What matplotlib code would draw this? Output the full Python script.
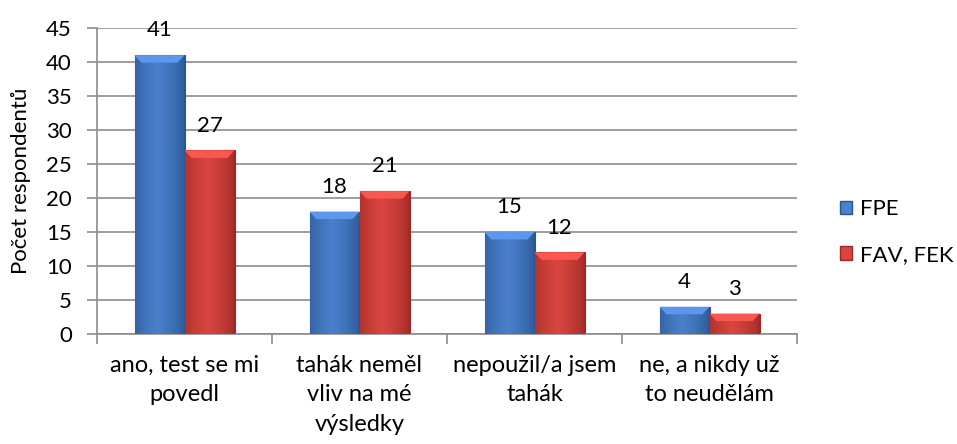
import numpy as np
import matplotlib
matplotlib.use("Agg")
import matplotlib.pyplot as plt
from matplotlib.colors import to_rgb
from matplotlib.patches import Patch

categories = ["ano, test se mi\npovedl", "tahák neměl\nvliv na mé\nvýsledky",
              "nepoužil/a jsem\ntahák", "ne, a nikdy už\nto neudělám"]
series_names = ["FPE", "FAV, FEK"]
fpe = [41, 18, 15, 4]
fav_fek = [27, 21, 12, 3]
y_label = "Počet respondentů"

plt.rcParams['font.family'] = ['Lato', 'DejaVu Sans']
FS = 16
FS_CAT = 17

fig = plt.figure(figsize=(9.57, 4.44), dpi=100)
ax = fig.add_axes([97/957, 1-334/444, 700/957, 306/444])

colors = {"FPE": ("#2A5591", "#4A80CC"), "FAV, FEK": ("#9E2826", "#D9463F")}
width = 50/175
x = np.arange(len(categories))

def gradient_bar(bar, dark, light):
    x0, y0 = bar.get_x(), bar.get_y()
    w, h = bar.get_width(), bar.get_height()
    d = np.array(to_rgb(dark)); l = np.array(to_rgb(light))
    t = np.linspace(0, 1, 64)
    prof = np.clip(1 - np.abs(t - 0.45) / 0.55, 0, 1) ** 0.6
    row = d[None, :] * (1 - prof[:, None]) + l[None, :] * prof[:, None]
    img = row[None, :, :]
    im = ax.imshow(img, extent=[x0, x0 + w, y0, y0 + h], aspect='auto',
                   origin='lower', zorder=3, interpolation='bilinear')
    im.set_clip_path(bar)
    # top bevel
    bev = min(1.1, h * 0.5)
    xs = [x0, x0 + w, x0 + w - w * 0.14, x0 + w * 0.14]
    ys = [y0 + h, y0 + h, y0 + h - bev, y0 + h - bev]
    ax.fill(xs, ys, color=tuple(np.clip(l * 1.1 + 0.04, 0, 1)), zorder=4, lw=0)

for i, (name, vals) in enumerate([("FPE", fpe), ("FAV, FEK", fav_fek)]):
    dark, light = colors[name]
    offs = (i - 0.5) * width
    bars = ax.bar(x + offs, vals, width, color=dark, edgecolor=dark, lw=0.8, zorder=2)
    for b, v in zip(bars, vals):
        gradient_bar(b, dark, light)
        ax.annotate(str(v), (b.get_x() + b.get_width() / 2, v), xytext=(0, 13.5),
                    textcoords='offset points', ha='center', va='baseline',
                    fontsize=FS, color='black', zorder=5)

ax.set_xlim(-0.5, len(categories) - 0.5)
ax.set_ylim(0, 45)
ax.set_yticks(np.arange(0, 46, 5))
ax.yaxis.grid(True, color='#8C8C8C', lw=1.2)
ax.set_axisbelow(True)
ax.set_xticks(x)
ax.set_xticklabels(categories, fontsize=FS_CAT, linespacing=1.5, va='top')
ax.set_xticks(np.arange(-0.5, len(categories), 1), minor=True)
ax.tick_params(axis='x', which='major', length=0, pad=15)
ax.tick_params(axis='x', which='minor', length=7, color='#8C8C8C', width=1.2)
ax.tick_params(axis='y', length=7, color='#8C8C8C', width=1.2, labelsize=FS, pad=11)
for s in ['top', 'right']:
    ax.spines[s].set_visible(False)
for s in ['left', 'bottom']:
    ax.spines[s].set_color('#8C8C8C')
    ax.spines[s].set_linewidth(1.2)
ax.set_ylabel(y_label, fontsize=FS, labelpad=11)

handles = [Patch(facecolor=colors[n][1], edgecolor=colors[n][0]) for n in series_names]
leg = fig.legend(handles, series_names, loc='center left', bbox_to_anchor=(840/957, 1 - 232/444),
                 frameon=False, fontsize=FS, handlelength=0.55, handleheight=0.55,
                 handletextpad=0.35, labelspacing=1.15, borderaxespad=0, borderpad=0)

fig.savefig("out.png", dpi=100)
